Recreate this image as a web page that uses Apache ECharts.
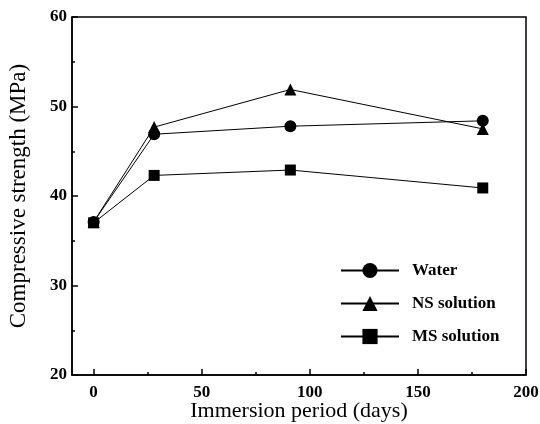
<!DOCTYPE html>
<html>
<head>
<meta charset="utf-8">
<script src="https://cdn.jsdelivr.net/npm/echarts@6/dist/echarts.min.js"></script>
<style>html,body{margin:0;padding:0;background:#fff}#c{width:540px;height:424px}</style>
</head>
<body>
<div id="c"></div>
<script>
var days = [0, 28, 91, 180];
var water = [37.1, 46.9, 47.8, 48.4];
var nsSolution = [37.1, 47.7, 51.9, 47.5];
var msSolution = [37.0, 42.3, 42.9, 40.9];
var xTickLabels = [0, 50, 100, 150, 200];
var xMinorTicks = [25, 75, 125, 175];
var seriesNames = ['Water', 'NS solution', 'MS solution'];

function pairs(xs, ys) { return xs.map(function (x, i) { return [x, ys[i]]; }); }

var font = 'Liberation Serif';
var chart = echarts.init(document.getElementById('c'), null, { renderer: 'canvas' });
chart.setOption({
  backgroundColor: '#fff',
  animation: false,
  grid: { left: 72, top: 17, right: 14, bottom: 49, show: true, borderColor: '#000', borderWidth: 1.5,
          backgroundColor: 'transparent', containLabel: false, outerBoundsMode: 'none' },
  legend: {
    orient: 'vertical', left: 335, top: 256, itemWidth: 58, itemHeight: 19, itemGap: 14,
    data: seriesNames,
    textStyle: { fontFamily: font, fontSize: 17, fontWeight: 'bold', color: '#000', padding: [0, 0, 0, 8], lineHeight: 19 }
  },
  xAxis: [{
    type: 'value', min: -10, max: 200,
    name: 'Immersion period (days)', nameLocation: 'middle', nameGap: 25, nameMoveOverlap: false,
    nameTextStyle: { fontFamily: font, fontSize: 22, color: '#000' },
    axisLine: { onZero: false, lineStyle: { color: '#000', width: 1.5 } },
    axisTick: { inside: true, length: 6, customValues: xTickLabels, lineStyle: { color: '#000', width: 1.5 } },
    axisLabel: { customValues: xTickLabels, fontFamily: font, fontSize: 17, fontWeight: 'bold', color: '#000', margin: 9 },
    splitLine: { show: false }
  }, {
    type: 'value', min: -10, max: 200, position: 'bottom', offset: 0,
    axisLine: { show: false, onZero: false },
    axisTick: { inside: true, length: 3, customValues: xMinorTicks, lineStyle: { color: '#000', width: 1.5 } },
    axisLabel: { show: false },
    splitLine: { show: false }
  }],
  yAxis: {
    type: 'value', min: 20, max: 60, interval: 10,
    name: 'Compressive strength (MPa)', nameLocation: 'middle', nameGap: 42, nameMoveOverlap: false,
    nameTextStyle: { fontFamily: font, fontSize: 23, color: '#000' },
    axisLine: { onZero: false, lineStyle: { color: '#000', width: 1.5 } },
    axisTick: { inside: true, length: 6, lineStyle: { color: '#000', width: 1.5 } },
    minorTick: { show: true, splitNumber: 2, length: 3, lineStyle: { color: '#000', width: 1.5 } },
    axisLabel: { fontFamily: font, fontSize: 17, fontWeight: 'bold', color: '#000', margin: 5 },
    splitLine: { show: false }
  },
  series: [
    { name: 'Water', type: 'line', data: pairs(days, water), symbol: 'circle', symbolSize: 12,
      itemStyle: { color: '#000' }, lineStyle: { color: '#000', width: 1 } },
    { name: 'NS solution', type: 'line', data: pairs(days, nsSolution), symbol: 'triangle', symbolSize: 12,
      itemStyle: { color: '#000' }, lineStyle: { color: '#000', width: 1 } },
    { name: 'MS solution', type: 'line', data: pairs(days, msSolution), symbol: 'rect', symbolSize: 11,
      itemStyle: { color: '#000' }, lineStyle: { color: '#000', width: 1 } }
  ]
});
</script>
</body>
</html>
